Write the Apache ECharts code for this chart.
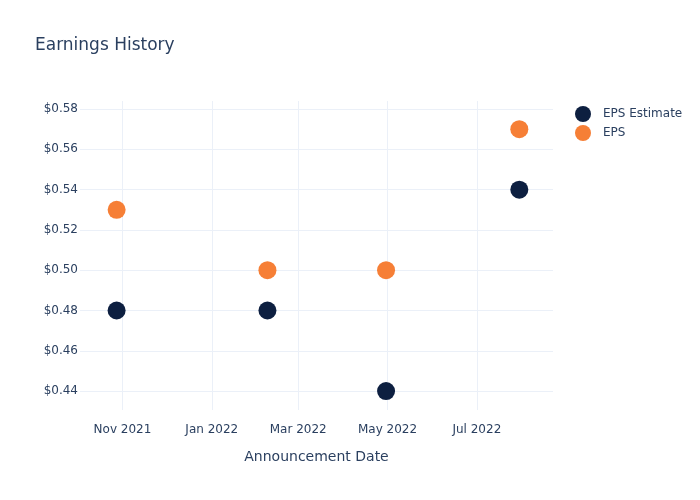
<!DOCTYPE html>
<html><head><meta charset="utf-8">
<script src="https://cdn.jsdelivr.net/npm/echarts@6/dist/echarts.min.js"></script>
<style>html,body{margin:0;padding:0;background:#fff}#c{width:700px;height:500px}</style>
</head><body><div id="c"></div>
<script>
const dates = ['2021-10-28', '2022-02-08', '2022-04-30', '2022-07-30'];
const epsEstimate = [0.48, 0.48, 0.44, 0.54];
const eps = [0.53, 0.50, 0.50, 0.57];
const xTicks = ['2021-11-01', '2022-01-01', '2022-03-01', '2022-05-01', '2022-07-01'];
const yTicks = [0.44, 0.46, 0.48, 0.50, 0.52, 0.54, 0.56, 0.58];
const monthNames = ['Jan','Feb','Mar','Apr','May','Jun','Jul','Aug','Sep','Oct','Nov','Dec'];

const ts = s => { const [y,m,d] = s.split('-').map(Number); return Date.UTC(y, m-1, d); };
const tickTs = xTicks.map(ts);
const txt = '#2a3f5f';
const font = 'DejaVu Sans, Open Sans, Verdana, sans-serif';

const chart = echarts.init(document.getElementById('c'), null, {renderer: 'canvas'});
chart.setOption({
  backgroundColor: '#fff',
  animation: false,
  title: {text: 'Earnings History', left: 35, top: 37, padding: 0,
    textStyle: {fontFamily: font, fontSize: 17, fontWeight: 'normal', color: txt}},
  legend: {
    orient: 'vertical', left: 570, top: 101, itemWidth: 16, itemHeight: 16, itemGap: 3,
    icon: 'circle',
    textStyle: {fontFamily: font, fontSize: 12, color: txt, padding: [0, 0, 0, 7]},
    data: ['EPS Estimate', 'EPS']
  },
  grid: {left: 80, right: 147, top: 101, bottom: 90},
  xAxis: {
    type: 'value',
    min: ts('2021-10-03'), max: ts('2022-08-22'),
    name: 'Announcement Date', nameLocation: 'middle', nameGap: 40,
    nameTextStyle: {fontFamily: font, fontSize: 14, color: txt},
    axisLine: {show: false}, axisTick: {show: false, customValues: tickTs},
    axisLabel: {customValues: tickTs, fontFamily: font, fontSize: 12, color: txt, margin: 14,
      showMinLabel: true, showMaxLabel: true,
      formatter: v => { const d = new Date(v); return monthNames[d.getUTCMonth()] + ' ' + d.getUTCFullYear(); }},
    splitLine: {show: true, lineStyle: {color: '#ebf0f8', width: 1}}
  },
  yAxis: {
    type: 'value', min: 0.4306, max: 0.584,
    axisLine: {show: false}, axisTick: {show: false, customValues: yTicks},
    axisLabel: {customValues: yTicks, fontFamily: font, fontSize: 12, color: txt, margin: 2,
      formatter: v => '$' + v.toFixed(2)},
    splitLine: {show: true, lineStyle: {color: '#ebf0f8', width: 1}}
  },
  series: [
    {name: 'EPS Estimate', type: 'scatter', symbolSize: 18,
     itemStyle: {color: '#0d1f40', opacity: 1},
     data: dates.map((d, i) => [ts(d), epsEstimate[i]])},
    {name: 'EPS', type: 'scatter', symbolSize: 18,
     itemStyle: {color: '#f67f36', opacity: 1},
     data: dates.map((d, i) => [ts(d), eps[i]])}
  ]
});
</script></body></html>
